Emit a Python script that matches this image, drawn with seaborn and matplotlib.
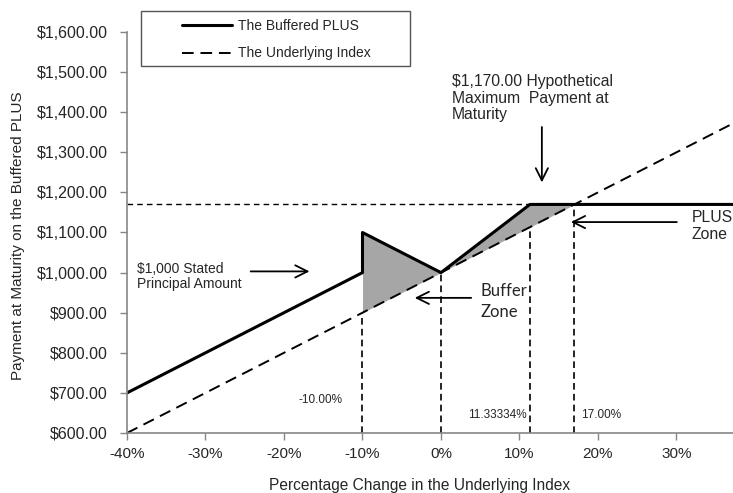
import numpy as np
import pandas as pd
import matplotlib
matplotlib.use("Agg")
import matplotlib.pyplot as plt
import seaborn as sns
from matplotlib.patches import Rectangle
from matplotlib.ticker import FuncFormatter

# payoff data (x = % change in underlying index)
plus_x = [-40, -10, -10, 0, 11.33334, 17, 37.2]
plus_y = [700, 1000, 1100, 1000, 1170, 1170, 1170]
index_x = [-40, 37.2]
index_y = [600, 1372]
cap_value = 1170
marker_x = [-10, 0, 11.33334, 17]
marker_labels = ["-10.00%", "", "11.33334%", "17.00%"]

sns.set_style("white")
plt.rcParams['font.family'] = ['Liberation Sans', 'DejaVu Sans']

fig = plt.figure(figsize=(7.33, 4.93), dpi=100)
ax = fig.add_axes([127 / 733, 1 - 433 / 493, 1 - 127 / 733, (433 - 32) / 493])

# shaded zones
bx = np.array([-10, 0])
ax.fill_between(bx, [900, 1000], [1100, 1000], color="#a6a6a6", lw=0)
zx = np.array([0, 11.33334, 17])
ax.fill_between(zx, [1000, 1113.3334, 1170], [1000, 1170, 1170], color="#a6a6a6", lw=0)

# cap line and vertical markers
ax.plot([-40, 17], [cap_value, cap_value], color="black", lw=1, ls=(0, (4, 3)))
for mx in marker_x:
    ax.plot([mx, mx], [600, 1000 + 10 * mx], color="black", lw=1.2, ls=(0, (4, 2.5)))

sns.lineplot(x=plus_x, y=plus_y, sort=False, estimator=None, color="black",
             lw=2.2, ax=ax, label="The Buffered PLUS")
sns.lineplot(x=index_x, y=index_y, sort=False, estimator=None, color="black",
             lw=1.4, ax=ax, label="The Underlying Index")
ax.lines[-1].set_dashes((6, 3.5))

ax.set_xlim(-40, 37.2)
ax.set_ylim(600, 1600)
ax.set_xticks(range(-40, 31, 10))
ax.set_yticks(range(600, 1601, 100))
ax.xaxis.set_major_formatter(FuncFormatter(lambda v, p: f"{v:.0f}%"))
ax.yaxis.set_major_formatter(FuncFormatter(lambda v, p: f"${v:,.2f}"))
ax.tick_params(axis="both", length=5, width=1, color="#868686",
               left=True, bottom=True, direction="out", pad=5)
ax.tick_params(axis="x", labelsize=11)
ax.tick_params(axis="y", labelsize=11.5, pad=9)
for s in ["top", "right"]:
    ax.spines[s].set_visible(False)
for s in ["left", "bottom"]:
    ax.spines[s].set_color("#868686")
    ax.spines[s].set_linewidth(1.2)

ax.set_xlabel("Percentage Change in the Underlying Index", fontsize=11.2)
ax.set_ylabel("Payment at Maturity on the Buffered PLUS", fontsize=11)
ax.xaxis.set_label_coords(0.483, -0.112)
ax.yaxis.set_label_coords(-0.168, 0.491)

# legend (box drawn separately to match the wide frame)
leg = ax.legend(loc="upper left", bbox_to_anchor=(176 / 733, 1 - 13 / 493),
                bbox_transform=fig.transFigure, borderaxespad=0, fontsize=10,
                handlelength=3.6, handletextpad=0.45, labelspacing=1.0, frameon=False)
fig.patches.append(Rectangle((141 / 733, 1 - 66 / 493), (410 - 141) / 733, 55 / 493,
                             transform=fig.transFigure, fill=False,
                             edgecolor="#555555", lw=1))

arrow = dict(arrowstyle="->", lw=1.3, color="black", mutation_scale=22)
ax.annotate("", xy=(-16.4, 1003), xytext=(-24.6, 1003), arrowprops=arrow)
ax.text(-38.7, 990, "$1,000 Stated\nPrincipal Amount", fontsize=10, va="center",
        ha="left", linespacing=1.15)

ax.annotate("", xy=(12.85, 1218), xytext=(12.85, 1370), arrowprops=arrow)
ax.text(1.4, 1375, "$1,170.00 Hypothetical\nMaximum  Payment at\nMaturity", fontsize=11.3,
        va="bottom", ha="left", linespacing=1.12)

ax.annotate("", xy=(16.2, 1126), xytext=(30.4, 1126), arrowprops=arrow)
ax.text(31.9, 1116, "PLUS\nZone", fontsize=11.3, va="center", ha="left", linespacing=1.2)

ax.annotate("", xy=(-3.7, 937), xytext=(4.2, 937), arrowprops=arrow)
ax.text(5.0, 928, "Buffer\nZone", fontsize=12, va="center", ha="left",
        family=["Lato", "DejaVu Sans"], linespacing=1.35)

ax.text(-15.4, 682, marker_labels[0], fontsize=8.5, ha="center", va="center")
ax.text(10.9, 645, marker_labels[2], fontsize=8.5, ha="right", va="center")
ax.text(17.9, 645, marker_labels[3], fontsize=8.5, ha="left", va="center")

fig.savefig("out.png", dpi=100)
